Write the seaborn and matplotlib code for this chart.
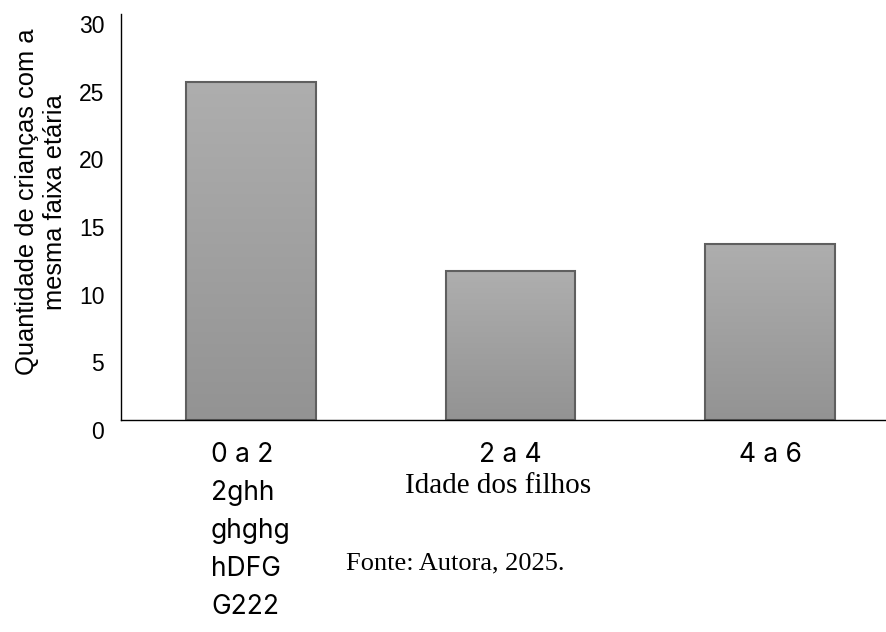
import numpy as np
import pandas as pd
import seaborn as sns
import matplotlib
matplotlib.use('Agg')
import matplotlib.pyplot as plt
from matplotlib import transforms
from matplotlib.colors import LinearSegmentedColormap

# dados
faixas = ['0 a 2\n2ghh\nghghg\nhDFG\nG222', '2 a 4', '4 a 6']
quantidade = [25, 11, 13]
yticks = [0, 5, 10, 15, 20, 25, 30]

sns.set_style('white')
plt.rcParams['font.family'] = ['Liberation Sans', 'DejaVu Sans']
plt.rcParams['text.color'] = 'black'

fig = plt.figure(figsize=(8.86, 6.32), dpi=100)
ax = fig.add_axes([121 / 886, 1 - 420 / 632, 1 - 121 / 886, (420 - 14) / 632])

df = pd.DataFrame({'faixa': faixas, 'qtd': quantidade})
sns.barplot(data=df, x='faixa', y='qtd', color='#a0a0a0', width=0.5,
            edgecolor='#5f5f5f', linewidth=1.5, saturation=1, ax=ax)

# preenchimento em degradê (claro em cima, escuro embaixo)
cmap = LinearSegmentedColormap.from_list('cinza', ['#939393', '#aeaeae'])
grad = np.linspace(0, 1, 256).reshape(-1, 1)
for bar in ax.patches:
    x0, y0, w, h = bar.get_x(), bar.get_y(), bar.get_width(), bar.get_height()
    im = ax.imshow(grad, cmap=cmap, extent=[x0, x0 + w, y0, y0 + h], origin='lower',
                   aspect='auto', zorder=bar.get_zorder() - 0.1)
    im.set_clip_path(bar)
    bar.set_facecolor('none')

ax.set_xlim(-0.5, 2.446)
ax.set_ylim(0, 30)
ax.set_yticks(yticks)
ax.set_xlabel('')
ax.set_ylabel('')
sns.despine(ax=ax)
for s in ['left', 'bottom']:
    ax.spines[s].set_color('black')
    ax.spines[s].set_linewidth(1.0)
ax.tick_params(axis='both', length=0, labelcolor='black')
ax.tick_params(axis='y', labelsize=16.5, pad=12)
ax.tick_params(axis='x', labelsize=19, pad=16)

# rótulos do eixo y ficam um pouco abaixo da posição
shift = transforms.ScaledTranslation(0, -10 / 100, fig.dpi_scale_trans)
for lbl in ax.get_yticklabels():
    lbl.set_transform(lbl.get_transform() + shift)
for lbl in ax.get_xticklabels():
    lbl.set_multialignment('left')
    lbl.set_linespacing(1.6)
    lbl.set_fontfamily(['Inter', 'DejaVu Sans'])

fig.text(41 / 886, 1 - 202 / 632, 'Quantidade de crianças com a\nmesma faixa etária',
         rotation=90, ha='center', va='center', fontsize=18.4, linespacing=1.2)
fig.text(498 / 886, 1 - 486 / 632, 'Idade dos filhos', ha='center', va='center',
         fontsize=21, fontfamily='Liberation Serif')
fig.text(455 / 886, 1 - 563 / 632, 'Fonte: Autora, 2025.', ha='center', va='center',
         fontsize=19, fontfamily='Liberation Serif')

fig.savefig('out.png', dpi=100)
